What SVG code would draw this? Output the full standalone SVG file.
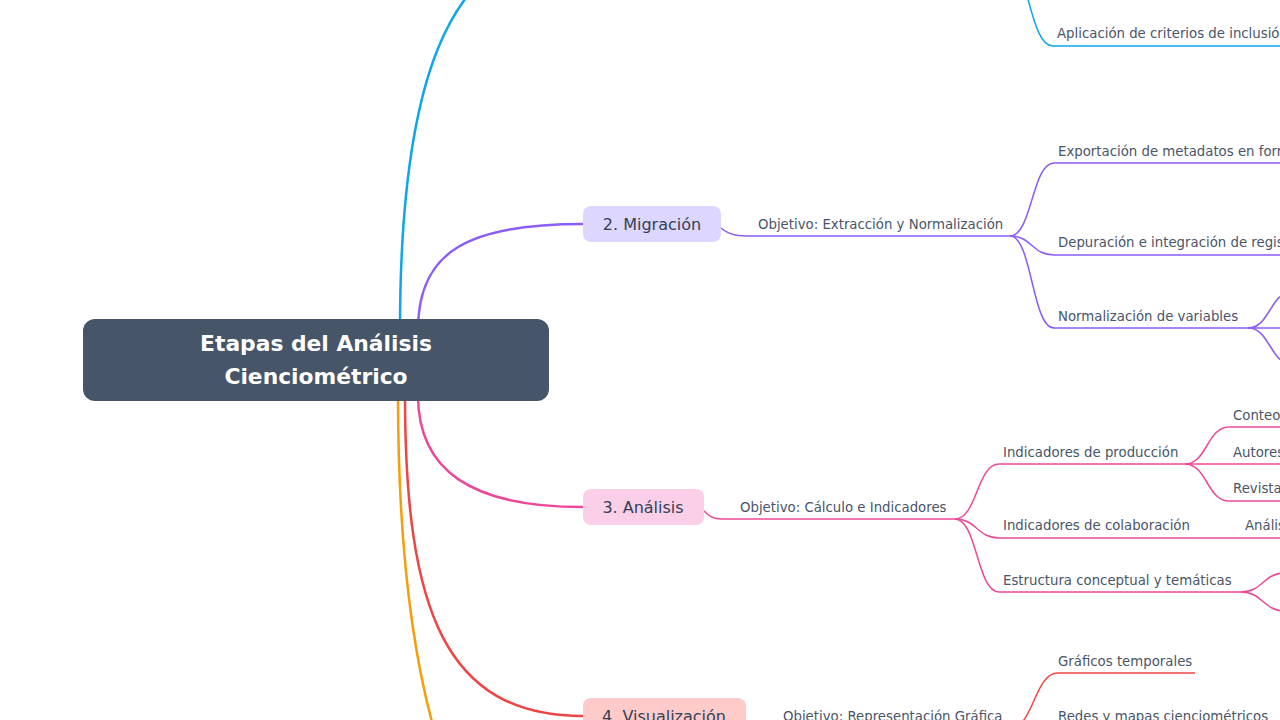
<svg xmlns="http://www.w3.org/2000/svg" width="1280" height="720" viewBox="0 0 1280 720">
<style>
  text { font-family: "DejaVu Sans", "Liberation Sans", sans-serif; }
  .lbl { font-size: 13.3px; fill: #4a5568; }
  .br { font-size: 16px; fill: #334155; text-anchor: middle; }
  .title { font-size: 21.8px; font-weight: bold; fill: #ffffff; text-anchor: middle; }
  .main { fill: none; stroke-width: 2.5; stroke-linecap: round; }
  .sub { fill: none; stroke-width: 1.5; }
  .blue { stroke: #0ea5e9; }
  .purple { stroke: #8b5cf6; }
  .pink { stroke: #ec4899; }
  .red { stroke: #ef4444; }
  .orange { stroke: #f59e0b; }
</style>
<rect width="1280" height="720" fill="#ffffff"/>
<g id="connectors">
  <path class="main blue" d="M400,330 C400,100 440,-60 583,-60"/>
  <path class="main purple" d="M418,330 C418,250 470,224 583,224"/>
  <path class="main pink" d="M418,395 C418,470 470,507 583,507"/>
  <path class="main red" d="M405,395 C405,610 445,716 583,716"/>
  <path class="main orange" d="M398,395 C398,640 440,900 583,900"/>

  <path class="sub blue" d="M1005,-40 C1029,-40 1029,46 1053,46 L1290,46"/>

  <path class="sub purple" d="M721,228 C730,236 740,236 752,236 L1010,236"/>
  <path class="sub purple" d="M1010,236 C1032,236 1032,163 1054,163 L1290,163"/>
  <path class="sub purple" d="M1010,236 C1032,236 1032,255 1054,255 L1290,255"/>
  <path class="sub purple" d="M1010,236 C1032,236 1032,328 1054,328 L1248,328"/>
  <path class="sub purple" d="M1248,328 C1270,328 1270,292 1292,292"/>
  <path class="sub purple" d="M1248,328 L1292,328"/>
  <path class="sub purple" d="M1248,328 C1270,328 1270,364 1292,364"/>

  <path class="sub pink" d="M704,511 C712,519 716,519 726,519 L955,519"/>
  <path class="sub pink" d="M955,519 C977,519 977,464 999,464 L1185,464"/>
  <path class="sub pink" d="M955,519 C977,519 977,538 999,538 L1197,538"/>
  <path class="sub pink" d="M955,519 C977,519 977,592 999,592 L1241,592"/>
  <path class="sub pink" d="M1185,464 C1207,464 1207,427 1229,427 L1290,427"/>
  <path class="sub pink" d="M1185,464 L1290,464"/>
  <path class="sub pink" d="M1185,464 C1207,464 1207,501 1229,501 L1290,501"/>
  <path class="sub pink" d="M1197,538 L1290,538"/>
  <path class="sub pink" d="M1241,592 C1263,592 1263,573 1285,573"/>
  <path class="sub pink" d="M1241,592 C1263,592 1263,611 1285,611"/>

  <path class="sub red" d="M746,722 C754,728 758,728 768,728 L1010,728"/>
  <path class="sub red" d="M1010,728 C1034,728 1034,673 1058,673 L1195,673"/>
  <path class="sub red" d="M1010,728 L1270,728"/>
</g>
<g id="root">
  <rect x="83" y="319" width="466" height="82" rx="12" fill="#475569"/>
  <text class="title" x="316" y="351">Etapas del Análisis</text>
  <text class="title" x="316" y="384">Cienciométrico</text>
</g>
<g id="b1-children">
  <text class="lbl" x="1057" y="38">Aplicación de criterios de inclusión</text>
</g>
<g id="b2">
  <rect x="583" y="206" width="138" height="36" rx="8" fill="#ddd6fe"/>
  <text class="br" x="652" y="230">2. Migración</text>
  <text class="lbl" x="758" y="229">Objetivo: Extracción y Normalización</text>
  <text class="lbl" x="1058" y="156">Exportación de metadatos en formato</text>
  <text class="lbl" x="1058" y="247">Depuración e integración de registros</text>
  <text class="lbl" x="1058" y="321">Normalización de variables</text>
</g>
<g id="b3">
  <rect x="583" y="489" width="121" height="36" rx="8" fill="#fbcfe8"/>
  <text class="br" x="643" y="513">3. Análisis</text>
  <text class="lbl" x="740" y="512">Objetivo: Cálculo e Indicadores</text>
  <text class="lbl" x="1003" y="457">Indicadores de producción</text>
  <text class="lbl" x="1233" y="420">Conteo</text>
  <text class="lbl" x="1233" y="457">Autores</text>
  <text class="lbl" x="1233" y="493">Revistas</text>
  <text class="lbl" x="1003" y="530">Indicadores de colaboración</text>
  <text class="lbl" x="1245" y="530">Análisis</text>
  <text class="lbl" x="1003" y="585">Estructura conceptual y temáticas</text>
</g>
<g id="b4">
  <rect x="583" y="698" width="163" height="36" rx="8" fill="#fecaca"/>
  <text class="br" x="664" y="722">4. Visualización</text>
  <text class="lbl" x="783" y="721">Objetivo: Representación Gráfica</text>
  <text class="lbl" x="1058" y="666">Gráficos temporales</text>
  <text class="lbl" x="1058" y="721">Redes y mapas cienciométricos</text>
</g>
</svg>
